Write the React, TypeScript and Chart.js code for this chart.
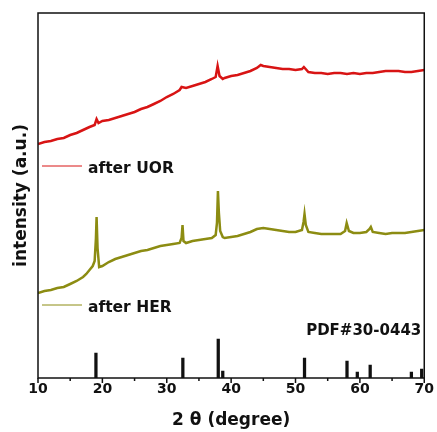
import React, { useEffect, useRef } from "react";
import { Chart, registerables } from "chart.js";

Chart.register(...registerables);

const uorAngle = [10, 11, 12, 13, 14, 15, 16, 17, 18, 18.8, 19.1, 19.4, 20, 21, 22, 23, 24, 25, 26, 27, 28, 29, 30, 31, 32, 32.3, 33, 34, 35, 36, 37, 37.6, 37.9, 38.2, 38.7, 39, 40, 41, 42, 43, 44, 44.6, 45, 46, 47, 48, 49, 50, 51, 51.3, 52, 53, 54, 55, 56, 57, 58, 59, 60, 61, 62, 63, 64, 65, 66, 67, 68, 69, 70];
const uorIntensity = [234, 236, 237, 239, 240, 243, 245, 248, 251, 253, 259, 255, 257, 258, 260, 262, 264, 266, 269, 271, 274, 277, 281, 284, 288, 291, 290, 292, 294, 296, 299, 301, 312, 302, 299, 300, 302, 303, 305, 307, 310, 313, 312, 311, 310, 309, 309, 308, 309, 311, 306, 305, 305, 304, 305, 305, 304, 305, 304, 305, 305, 306, 307, 307, 307, 306, 306, 307, 308];

const herAngle = [10, 11, 12, 13, 14, 15, 16, 17, 17.5, 18, 18.5, 18.8, 19.0, 19.1, 19.25, 19.5, 20, 21, 22, 23, 24, 25, 26, 27, 28, 29, 30, 31, 32, 32.3, 32.45, 32.6, 33, 34, 35, 36, 37, 37.6, 37.8, 37.95, 38.1, 38.3, 38.7, 39, 40, 41, 42, 43, 44, 45, 46, 47, 48, 49, 50, 51, 51.25, 51.4, 51.6, 52, 53, 54, 55, 56, 57, 57.7, 57.95, 58.3, 59, 60, 61, 61.5, 61.7, 62, 63, 64, 65, 66, 67, 68, 69, 70];
const herIntensity = [85, 87, 88, 90, 91, 94, 97, 101, 104, 108, 112, 117, 140, 161, 130, 111, 112, 116, 119, 121, 123, 125, 127, 128, 130, 132, 133, 134, 135, 140, 153, 137, 135, 137, 138, 139, 140, 143, 155, 187, 165, 147, 141, 140, 141, 142, 144, 146, 149, 150, 149, 148, 147, 146, 146, 148, 156, 164, 153, 146, 145, 144, 144, 144, 144, 147, 155, 147, 145, 145, 146, 149, 151, 146, 145, 144, 145, 145, 145, 146, 147, 148];

const pdfAngle = [19.0, 32.5, 38.0, 38.7, 51.4, 58.0, 59.6, 61.6, 68.0, 69.6];
const pdfIntensity = [25, 20, 39, 7, 20, 17, 6, 13, 6, 9];

const xTickValues = [10, 15, 20, 25, 30, 35, 40, 45, 50, 55, 60, 65, 70];

const seriesNames = ["after UOR", "after HER"];
const refLabel = "PDF#30-0443";
const xTitle = "2 θ (degree)";
const yTitle = "intensity (a.u.)";

const RED = "#d81414";
const OLIVE = "#8c8c12";
const INK = "#111111";
const FONT = "'DejaVu Sans', sans-serif";

const zip = (xs: number[], ys: number[]) => xs.map((x, i) => ({ x, y: ys[i] }));

export default function App() {
  const ref = useRef<HTMLCanvasElement | null>(null);

  useEffect(() => {
    if (!ref.current) return;

    const overlay = {
      id: "overlay",
      afterDraw(chart: any) {
        const { ctx, chartArea } = chart;
        const xs = chart.scales.x;
        const ys = chart.scales.y;
        ctx.save();
        // frame
        ctx.strokeStyle = INK;
        ctx.lineWidth = 1.5;
        ctx.strokeRect(chartArea.left, chartArea.top, chartArea.right - chartArea.left, chartArea.bottom - chartArea.top);
        // ticks
        xTickValues.forEach((v) => {
          const px = xs.getPixelForValue(v);
          const len = v % 10 === 0 ? 5 : 3;
          ctx.beginPath();
          ctx.moveTo(px, chartArea.bottom);
          ctx.lineTo(px, chartArea.bottom + len);
          ctx.stroke();
        });
        // legend samples
        const legendX0 = chartArea.left + 4;
        const legendX1 = chartArea.left + 44;
        const uorY = ys.getPixelForValue(212);
        const herY = ys.getPixelForValue(73);
        ctx.lineWidth = 1;
        ctx.strokeStyle = RED;
        ctx.beginPath();
        ctx.moveTo(legendX0, uorY);
        ctx.lineTo(legendX1, uorY);
        ctx.stroke();
        ctx.strokeStyle = OLIVE;
        ctx.beginPath();
        ctx.moveTo(legendX0, herY);
        ctx.lineTo(legendX1, herY);
        ctx.stroke();
        ctx.fillStyle = INK;
        ctx.font = `bold 15.5px ${FONT}`;
        ctx.textBaseline = "alphabetic";
        ctx.textAlign = "left";
        ctx.fillText(seriesNames[0], chartArea.left + 50, uorY + 6.5);
        ctx.fillText(seriesNames[1], chartArea.left + 50, herY + 6.5);
        ctx.font = `bold 15px ${FONT}`;
        ctx.textAlign = "right";
        ctx.fillText(refLabel, chartArea.right - 3, ys.getPixelForValue(43));
        ctx.restore();
      },
    };

    const chart = new Chart(ref.current, {
      type: "line",
      data: {
        datasets: [
          {
            label: seriesNames[0],
            data: zip(uorAngle, uorIntensity),
            borderColor: RED,
            borderWidth: 2.5,
            pointRadius: 0,
            tension: 0,
          },
          {
            label: seriesNames[1],
            data: zip(herAngle, herIntensity),
            borderColor: OLIVE,
            borderWidth: 2.5,
            pointRadius: 0,
            tension: 0,
          },
          {
            type: "bar",
            label: refLabel,
            data: zip(pdfAngle, pdfIntensity),
            backgroundColor: INK,
            borderWidth: 0,
            barThickness: 2.6,
          } as any,
        ],
      },
      options: {
        animation: false,
        responsive: false,
        layout: { padding: { top: 13, right: 11, left: 0, bottom: 0 } },
        plugins: { legend: { display: false }, tooltip: { enabled: false } },
        scales: {
          x: {
            type: "linear",
            min: 10,
            max: 70,
            offset: false,
            grid: { display: false, drawTicks: false, offset: false },
            border: { display: false },
            ticks: {
              stepSize: 5,
              autoSkip: false,
              maxRotation: 0,
              padding: 3,
              color: INK,
              font: { family: FONT, size: 14, weight: "bold" },
              callback: (v: any) => (Number(v) % 10 === 0 ? String(v) : ""),
            },
            title: {
              display: true,
              text: xTitle,
              color: INK,
              font: { family: FONT, size: 17, weight: "bold" },
              padding: { top: 0, bottom: 1 },
            },
            afterFit: (s: any) => {
              s.height = 54;
            },
          },
          y: {
            min: 0,
            max: 365,
            grid: { display: false, drawTicks: false },
            border: { display: false },
            ticks: { display: false },
            title: {
              display: true,
              text: yTitle,
              color: INK,
              font: { family: FONT, size: 17, weight: "bold" },
              padding: { top: 11, bottom: 0 },
            },
            afterFit: (s: any) => {
              s.width = 38;
            },
          },
        },
      },
      plugins: [overlay],
    });
    return () => chart.destroy();
  }, []);

  return (
    <div style={{ position: "fixed", left: 0, top: 0, width: 437, height: 432, background: "#fff" }}>
      <canvas ref={ref} width={437} height={432} style={{ display: "block" }} />
    </div>
  );
}
